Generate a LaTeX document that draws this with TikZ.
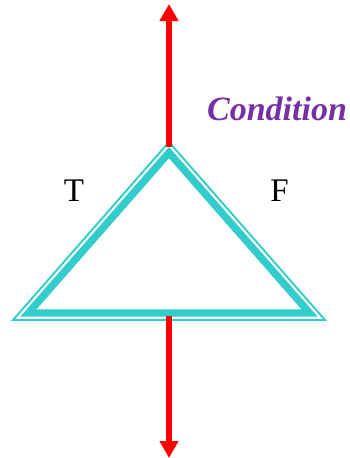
\documentclass[tikz,border=0pt]{standalone}
\usepackage{fontspec}
\setmainfont{Liberation Serif}
\usetikzlibrary{arrows.meta, positioning}
\definecolor{turq}{RGB}{51,204,204}
\definecolor{condpurple}{RGB}{118,48,165}

\begin{document}
\begin{tikzpicture}[
  x=1pt, y=-1pt,
  outline/.style={draw=turq, line width=1.9pt, line join=miter},
  band/.style={draw=turq, line width=7.4pt, line join=miter},
  arr/.style={-{Triangle[length=17pt, width=18pt]}, red, line width=6pt},
  branch/.style={font=\fontsize{33}{36}\selectfont, inner sep=0pt},
  cond/.style={font=\fontsize{34}{38}\selectfont\bfseries\itshape, text=condpurple, inner sep=0pt}
]
\useasboundingbox (0,0) rectangle (349,458);

% decision triangle: thin outer edge, thick inner band
\coordinate (apex) at (169,142);
\coordinate (left) at (13,320);
\coordinate (right) at (325,320);
\draw[outline] (left) -- (apex) -- (right) -- cycle;
\draw[band] (28.4,313) -- (169,152.6) -- (309.6,313) -- cycle;

\coordinate (tophook) at (169,147);
\coordinate (bothook) at (169,316);
\coordinate (out) at (169,4);
\coordinate (in) at (169,458);

\draw[arr] (tophook) -- (out);
\draw[arr] (bothook) -- (in);

\node[cond, anchor=base] (condition) at (277,120) {Condition};
\node[branch, anchor=base] (true) at (74,201) {T};
\node[branch, anchor=base] (false) at (279.5,201) {F};
\end{tikzpicture}
\end{document}
